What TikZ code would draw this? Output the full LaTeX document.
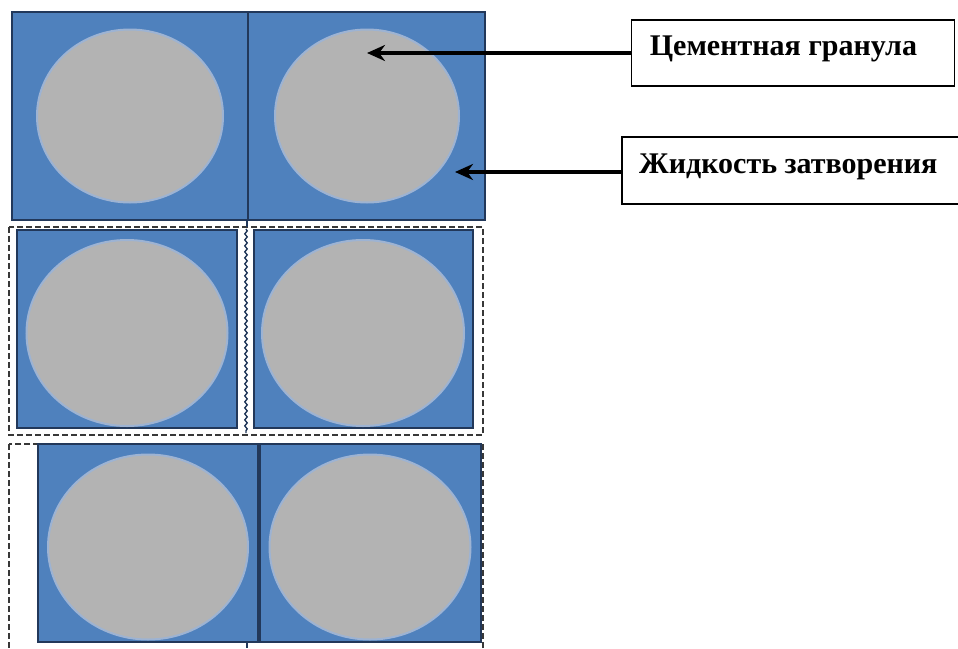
\documentclass[tikz,border=0pt]{standalone}
\usepackage{fontspec}
\setmainfont{Liberation Serif}
\usetikzlibrary{decorations.pathmorphing,arrows.meta,shapes.geometric}
\definecolor{cellblue}{HTML}{4F81BD}
\definecolor{celledge}{HTML}{22385A}
\definecolor{grain}{HTML}{B3B3B3}
\definecolor{grainedge}{HTML}{9DB3D3}
\definecolor{dashgray}{HTML}{383838}
\tikzset{
  cell/.style={fill=cellblue, draw=celledge, line width=1.8pt},
  granule/.style={ellipse, fill=grain, draw=grainedge, line width=2pt, inner sep=0pt},
  dashbox/.style={draw=dashgray, dash pattern=on 6pt off 3pt, line width=2.4pt},
  labbox/.style={draw=black, line width=1.6pt, fill=white, inner sep=0pt},
  labtext/.style={font=\fontsize{30}{33}\selectfont\bfseries, inner sep=0pt, anchor=base west},
  pointer/.style={line width=4pt, -{Stealth[length=18pt,width=16pt]}},
}
\begin{document}
\begin{tikzpicture}[x=1pt,y=-1pt]
\useasboundingbox (0,0) rectangle (958,648);
\fill[white] (0,0) rectangle (958,648);
% ---- top row
\draw[cell] (12,12) rectangle (485,220);
\draw[celledge, line width=1.6pt] (248,12) -- (248,220);
\node[granule, minimum width=186, minimum height=173] (g1) at (130,116) {};
\node[granule, minimum width=184, minimum height=173] (g2) at (367,116) {};
% ---- middle row
\draw[dashbox] (9,227) rectangle (483,435);
\draw[celledge, line width=1.6pt] (247,220) -- (247,227);
\draw[celledge, line width=1.4pt, decorate, decoration={snake, amplitude=1.2pt, segment length=6pt}] (246,229) -- (246,433);
\draw[cell] (17,230) rectangle (237,428);
\draw[cell] (254,230) rectangle (473,428);
\node[granule, minimum width=201, minimum height=186] (g3) at (127,333) {};
\node[granule, minimum width=202, minimum height=186] (g4) at (363,333) {};
% ---- bottom row
\draw[dashbox] (9,444) rectangle (483,660);
\draw[cell] (38,444) rectangle (481,642);
\draw[celledge, line width=3.2pt] (259,444) -- (259,642);
\draw[celledge, line width=1.8pt] (247,642) -- (247,648);
\node[granule, minimum width=200, minimum height=185] (g5) at (148,547) {};
\node[granule, minimum width=201, minimum height=185] (g6) at (370,547) {};
% ---- labels
\node[labbox, minimum width=323, minimum height=66] (b1) at (793,53) {};
\node[labtext] (t1) at ([xshift=19pt, yshift=-2pt]b1.west) {Цементная гранула};
\node[labbox, minimum width=345, minimum height=67, anchor=west] (b2) at (621,170.5) {};
\node[labtext] (t2) at ([xshift=18pt, yshift=-2.5pt]b2.west) {Жидкость затворения};
\coordinate (p1) at (367,53);
\coordinate (p2) at (455,172);
\draw[pointer] (b1.west) -- (p1);
\draw[pointer] (b2.west |- p2) -- (p2);
\end{tikzpicture}
\end{document}
